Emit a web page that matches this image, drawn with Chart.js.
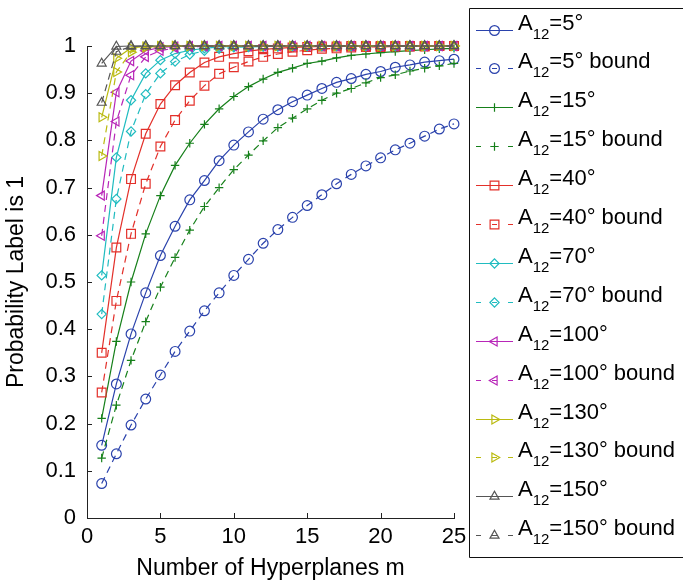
<!DOCTYPE html>
<html>
<head>
<meta charset="utf-8">
<script src="https://cdn.jsdelivr.net/npm/chart.js"></script>
<style>
  html, body { margin: 0; padding: 0; background: #fff; overflow: hidden; }
  #wrap { width: 683px; height: 580px; }
</style>
</head>
<body>
<div id="wrap"><canvas id="probChart" width="683" height="580"></canvas></div>
<script>
const hyperplanes = [1, 2, 3, 4, 5, 6, 7, 8, 9, 10, 11, 12, 13, 14, 15, 16, 17, 18, 19, 20, 21, 22, 23, 24, 25];
const angles = ['5', '15', '40', '70', '100', '130', '150'];

// measured probability that the label is 1, and the matching bound, per angle
const prob5 = [0.154, 0.284, 0.390, 0.477, 0.556, 0.618, 0.674, 0.715, 0.757, 0.790, 0.818, 0.845, 0.865, 0.882, 0.896, 0.910, 0.923, 0.931, 0.940, 0.946, 0.955, 0.960, 0.966, 0.969, 0.972];
const bound5 = [0.073, 0.136, 0.197, 0.252, 0.303, 0.353, 0.396, 0.439, 0.477, 0.514, 0.548, 0.582, 0.611, 0.637, 0.662, 0.685, 0.708, 0.728, 0.746, 0.763, 0.780, 0.794, 0.809, 0.824, 0.835];
const prob15 = [0.211, 0.374, 0.500, 0.602, 0.683, 0.747, 0.794, 0.834, 0.867, 0.893, 0.914, 0.930, 0.944, 0.953, 0.963, 0.968, 0.975, 0.980, 0.983, 0.986, 0.988, 0.990, 0.992, 0.994, 0.995];
const bound15 = [0.127, 0.239, 0.334, 0.416, 0.489, 0.552, 0.610, 0.660, 0.700, 0.738, 0.769, 0.799, 0.827, 0.847, 0.867, 0.885, 0.900, 0.910, 0.922, 0.933, 0.939, 0.947, 0.953, 0.958, 0.963];
const prob40 = [0.350, 0.573, 0.718, 0.814, 0.877, 0.917, 0.944, 0.965, 0.977, 0.984, 0.989, 0.993, 0.995, 0.997, 0.998, 0.999, 0.999, 1, 1, 1, 1, 1, 1, 1, 1];
const bound40 = [0.266, 0.460, 0.602, 0.708, 0.787, 0.843, 0.884, 0.916, 0.941, 0.955, 0.967, 0.977, 0.983, 0.988, 0.991, 0.994, 0.995, 0.997, 0.998, 0.998, 0.999, 0.999, 0.999, 1, 1];
const prob70 = [0.514, 0.764, 0.885, 0.942, 0.970, 0.984, 0.991, 0.995, 0.998, 0.999, 0.999, 1, 1, 1, 1, 1, 1, 1, 1, 1, 1, 1, 1, 1, 1];
const bound70 = [0.432, 0.676, 0.819, 0.898, 0.942, 0.967, 0.982, 0.990, 0.994, 0.997, 0.998, 0.999, 0.999, 1, 1, 1, 1, 1, 1, 1, 1, 1, 1, 1, 1];
const prob100 = [0.683, 0.902, 0.968, 0.990, 0.997, 0.999, 1, 1, 1, 1, 1, 1, 1, 1, 1, 1, 1, 1, 1, 1, 1, 1, 1, 1, 1];
const bound100 = [0.598, 0.840, 0.938, 0.977, 0.990, 0.996, 0.998, 0.999, 1, 1, 1, 1, 1, 1, 1, 1, 1, 1, 1, 1, 1, 1, 1, 1, 1];
const prob130 = [0.849, 0.974, 0.996, 0.999, 1, 1, 1, 1, 1, 1, 1, 1, 1, 1, 1, 1, 1, 1, 1, 1, 1, 1, 1, 1, 1];
const bound130 = [0.767, 0.945, 0.987, 0.997, 0.999, 1, 1, 1, 1, 1, 1, 1, 1, 1, 1, 1, 1, 1, 1, 1, 1, 1, 1, 1, 1];
const prob150 = [0.963, 0.999, 1, 1, 1, 1, 1, 1, 1, 1, 1, 1, 1, 1, 1, 1, 1, 1, 1, 1, 1, 1, 1, 1, 1];
const bound150 = [0.880, 0.988, 0.999, 1, 1, 1, 1, 1, 1, 1, 1, 1, 1, 1, 1, 1, 1, 1, 1, 1, 1, 1, 1, 1, 1];

const probs = [prob5, prob15, prob40, prob70, prob100, prob130, prob150];
const bounds = [bound5, bound15, bound40, bound70, bound100, bound130, bound150];

const colors = ['#2a42ac', '#16801a', '#e3302a', '#20bcc0', '#b826b8', '#baba10', '#555555'];
const markers = [
  { style: 'circle', rot: 0, r: 4.9 },
  { style: 'cross', rot: 0, r: 4.2 },
  { style: 'rect', rot: 0, r: 6.2 },
  { style: 'rectRot', rot: 0, r: 4.6 },
  { style: 'triangle', rot: -90, r: 5.2 },
  { style: 'triangle', rot: 90, r: 5.2 },
  { style: 'triangle', rot: 0, r: 5.2 }
];
const FONT = '"Liberation Sans", Arial, sans-serif';

const datasets = [];
angles.forEach(function (a, i) {
  [probs[i], bounds[i]].forEach(function (vals, k) {
    datasets.push({
      label: 'A12=' + a + '° ' + (k ? 'bound' : ''),
      angle: a,
      isBound: k === 1,
      data: vals,
      borderColor: colors[i],
      borderWidth: 1.2,
      borderDash: k ? [7, 5] : [],
      pointStyle: markers[i].style,
      pointRotation: markers[i].rot,
      pointRadius: markers[i].r,
      pointBorderWidth: 1.2,
      pointBorderColor: colors[i],
      pointBackgroundColor: 'rgba(0,0,0,0)',
      tension: 0,
      clip: false
    });
  });
});
// later series sit on top
datasets.forEach(function (d, i) { d.order = datasets.length - 1 - i; });

// ticks that point into the plot
const inwardTicks = {
  id: 'inwardTicks',
  afterDraw(chart) {
    const ctx = chart.ctx;
    const xs = chart.scales.x, ys = chart.scales.y;
    const area = chart.chartArea;
    ctx.save();
    ctx.strokeStyle = '#222';
    ctx.lineWidth = 1;
    ctx.beginPath();
    xs.ticks.forEach(function (t) {
      const px = Math.round(xs.getPixelForValue(t.value)) + 0.5;
      ctx.moveTo(px, area.bottom);
      ctx.lineTo(px, area.bottom - 5);
    });
    ys.ticks.forEach(function (t) {
      const py = Math.round(ys.getPixelForValue(t.value)) + 0.5;
      ctx.moveTo(area.left, py);
      ctx.lineTo(area.left + 5, py);
    });
    ctx.stroke();
    ctx.restore();
  }
};

// boxed legend on the right with subscripted labels
const sideLegend = {
  id: 'sideLegend',
  afterDraw(chart) {
    const ctx = chart.ctx;
    ctx.save();
    ctx.strokeStyle = '#111';
    ctx.lineWidth = 1;
    ctx.beginPath();
    ctx.moveTo(chart.width, 8.5);
    ctx.lineTo(469.5, 8.5);
    ctx.lineTo(469.5, 557.5);
    ctx.lineTo(chart.width, 557.5);
    ctx.stroke();
    chart.data.datasets.forEach(function (ds, i) {
      const base = 29.5 + i * 38.9;
      const ly = Math.round(base) + 0.5;
      ctx.strokeStyle = ds.borderColor;
      ctx.lineWidth = 1.2;
      ctx.setLineDash(ds.isBound ? [5, 11] : []);
      ctx.beginPath();
      ctx.moveTo(476, ly);
      ctx.lineTo(513, ly);
      ctx.stroke();
      ctx.setLineDash([]);
      ctx.fillStyle = 'rgba(0,0,0,0)';
      Chart.helpers.drawPoint(ctx, {
        pointStyle: ds.pointStyle,
        rotation: ds.pointRotation,
        radius: ds.pointRadius,
        borderWidth: 1.2
      }, 494.5, ly);

      ctx.fillStyle = '#000';
      ctx.textBaseline = 'alphabetic';
      ctx.textAlign = 'left';
      let x = 518;
      ctx.font = '22px ' + FONT;
      ctx.fillText('A', x, base);
      x += ctx.measureText('A').width;
      ctx.font = '15px ' + FONT;
      ctx.fillText('12', x, base + 9);
      x += ctx.measureText('12').width;
      ctx.font = '22px ' + FONT;
      ctx.fillText('=' + ds.angle + '°' + (ds.isBound ? ' bound' : ''), x, base);
    });
    ctx.restore();
  }
};

const whiteBg = {
  id: 'whiteBg',
  beforeDraw(chart) {
    const ctx = chart.ctx;
    ctx.save();
    ctx.fillStyle = '#fff';
    ctx.fillRect(0, 0, chart.width, chart.height);
    ctx.restore();
  }
};

new Chart(document.getElementById('probChart'), {
  type: 'line',
  data: { labels: hyperplanes, datasets: datasets },
  plugins: [whiteBg, inwardTicks, sideLegend],
  options: {
    responsive: false,
    animation: false,
    events: [],
    layout: { padding: { left: 0, top: 46, right: 229, bottom: 0 } },
    plugins: { legend: { display: false }, tooltip: { enabled: false } },
    scales: {
      x: {
        type: 'linear',
        min: 0,
        max: 25,
        grid: { display: false, drawTicks: false },
        border: { display: true, color: '#222', width: 1 },
        ticks: { stepSize: 5, padding: 6, color: '#000', maxRotation: 0, font: { family: FONT, size: 22 } },
        title: { display: true, text: 'Number of Hyperplanes m', color: '#000', padding: 0, font: { family: FONT, size: 23, lineHeight: 1 } },
        afterFit(s) { s.height = 62; }
      },
      y: {
        min: 0,
        max: 1,
        grid: { display: false, drawTicks: false },
        border: { display: true, color: '#222', width: 1 },
        ticks: {
          stepSize: 0.1, padding: 11, color: '#000', font: { family: FONT, size: 22 },
          callback: function (v) { return String(+v.toFixed(1)); }
        },
        title: { display: true, text: 'Probability Label is 1', color: '#000', padding: { top: 5, bottom: 0 }, font: { family: FONT, size: 23, lineHeight: 1 } },
        afterFit(s) { s.width = 87; }
      }
    }
  }
});
</script>
</body>
</html>
